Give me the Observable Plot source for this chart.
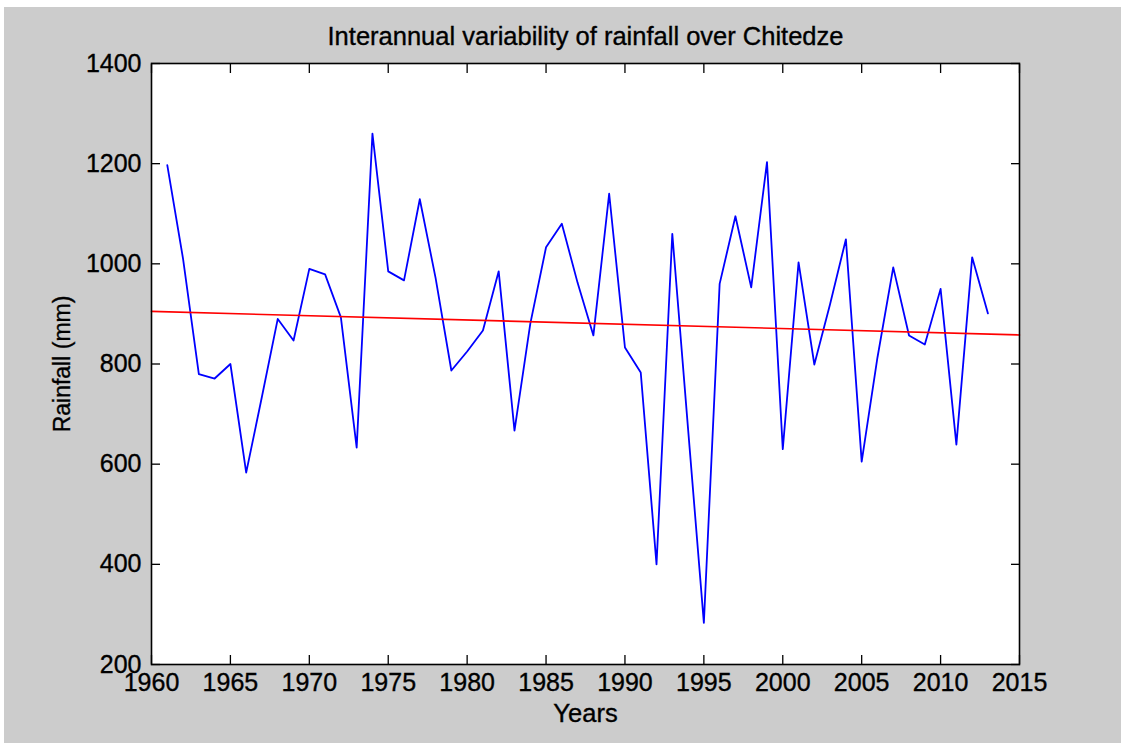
<!DOCTYPE html>
<html>
<head>
<meta charset="utf-8">
<script src="https://cdn.jsdelivr.net/npm/d3@7"></script>
<script src="https://cdn.jsdelivr.net/npm/@observablehq/plot@0.6"></script>
<style>
  html, body { margin: 0; padding: 0; background: #ffffff; }
  #wrap { position: absolute; left: 4px; top: 7px; width: 1117px; height: 736px; background: #cccccc; overflow: hidden; }
  #wrap svg text { stroke: #000; stroke-width: 0.35px; }
</style>
</head>
<body>
<div id="wrap"></div>
<script>
const years = [1961,1962,1963,1964,1965,1966,1967,1968,1969,1970,
               1971,1972,1973,1974,1975,1976,1977,1978,1979,1980,
               1981,1982,1983,1984,1985,1986,1987,1988,1989,1990,
               1991,1992,1993,1994,1995,1996,1997,1998,1999,2000,
               2001,2002,2003,2004,2005,2006,2007,2008,2009,2010,
               2011,2012,2013];
const rainfall = [1197,1010,780,771,800,583,735,890,847,990,
                  979,893,633,1260,985,967,1129,972,787,825,
                  867,985,667,880,1033,1080,962,857,1140,833,
                  783,400,1060,670,283,960,1095,953,1203,630,
                  1003,799,920,1049,605,813,993,857,839,950,
                  639,1013,901];
const trendYears = [1960, 2015];
const trendRain = [905, 858];
const xTicks = [1960,1965,1970,1975,1980,1985,1990,1995,2000,2005,2010,2015];
const yTicks = [200,400,600,800,1000,1200,1400];
const titleText = "Interannual variability of rainfall over Chitedze";
const xLabel = "Years";
const yLabel = "Rainfall (mm)";

const series = years.map((y, i) => ({year: y, rain: rainfall[i]}));
const trend = trendYears.map((y, i) => ({year: y, rain: trendRain[i]}));

const chart = Plot.plot({
  width: 1117,
  height: 736,
  marginLeft: 147,
  marginRight: 102,
  marginTop: 56,
  marginBottom: 79,
  style: {fontFamily: "'Liberation Sans', Arial, sans-serif", fontSize: "25px", color: "#000", background: "transparent", overflow: "visible"},
  x: {domain: [1960, 2015]},
  y: {domain: [200, 1400]},
  marks: [
    Plot.frame({fill: "white", stroke: null}),
    Plot.line(series, {x: "year", y: "rain", stroke: "#0000ff", strokeWidth: 1.8}),
    Plot.line(trend, {x: "year", y: "rain", stroke: "#ff0000", strokeWidth: 1.6}),
    Plot.axisX({anchor: "bottom", ticks: xTicks, tickSize: -9, tickPadding: 18, tickFormat: d => String(d), label: null, strokeWidth: 1.3, fill: "#000"}),
    Plot.axisX({anchor: "top", ticks: xTicks, tickSize: -9, tickFormat: () => "", label: null, strokeWidth: 1.3}),
    Plot.axisY({anchor: "left", ticks: yTicks, tickSize: -9, tickPadding: 19, tickFormat: d => String(d), label: null, strokeWidth: 1.3, fill: "#000"}),
    Plot.axisY({anchor: "right", ticks: yTicks, tickSize: -9, tickFormat: () => "", label: null, strokeWidth: 1.3}),
    Plot.frame({stroke: "#000", strokeWidth: 1.6}),
    Plot.text([titleText], {text: d => d, frameAnchor: "top", lineAnchor: "middle", textAnchor: "middle", dy: -27, fontSize: 25.5, fill: "#000"}),
    Plot.text([xLabel], {text: d => d, frameAnchor: "bottom", lineAnchor: "middle", textAnchor: "middle", dy: 49, fontSize: 25.5, fill: "#000"}),
    Plot.text([yLabel], {text: d => d, frameAnchor: "left", lineAnchor: "middle", textAnchor: "middle", rotate: -90, dx: -89, fontSize: 23, fill: "#000"})
  ]
});
document.getElementById("wrap").appendChild(chart);
</script>
</body>
</html>
